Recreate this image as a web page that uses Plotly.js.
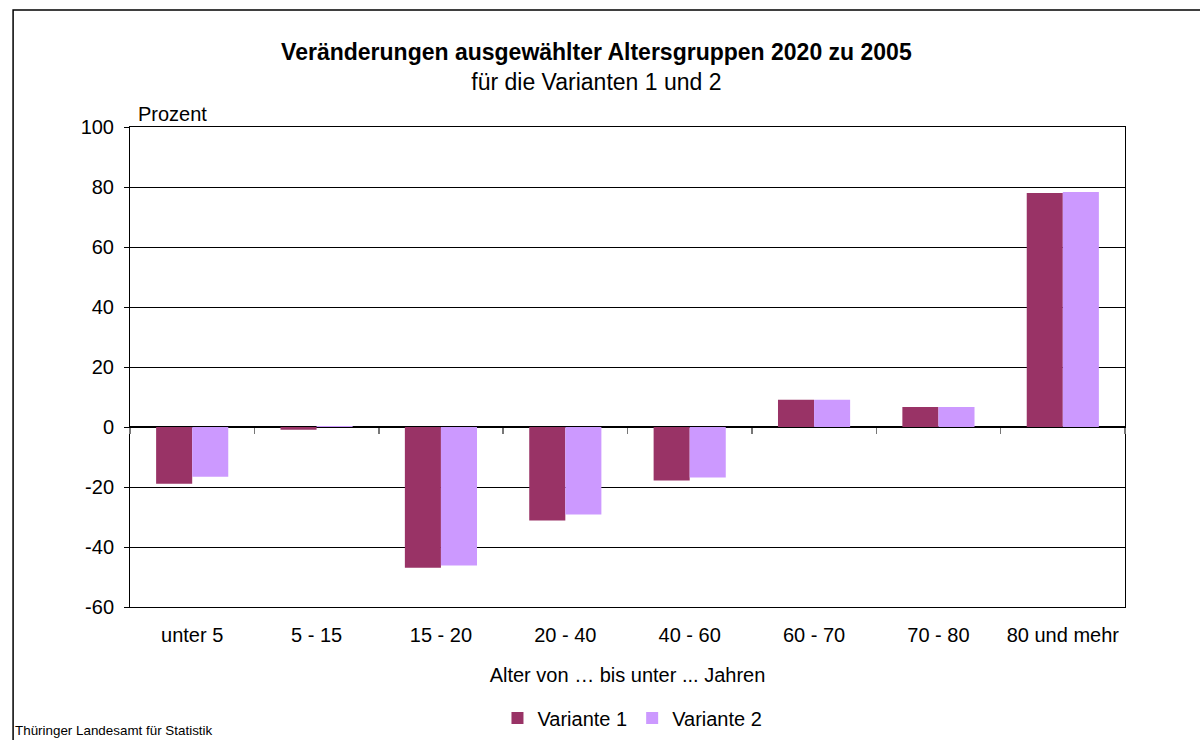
<!DOCTYPE html>
<html>
<head>
<meta charset="utf-8">
<script src="https://cdn.plot.ly/plotly-3.0.1.min.js"></script>
<style>html,body{margin:0;padding:0;background:#fff;}#chart{width:1200px;height:740px;}</style>
</head>
<body>
<div id="chart"></div>
<script>
const categories = ["unter 5", "5 - 15", "15 - 20", "20 - 40", "40 - 60", "60 - 70", "70 - 80", "80 und mehr"];
const variante1 = [-18.9, -0.9, -46.9, -31.2, -17.8, 9.1, 6.7, 78.0];
const variante2 = [-16.6, 0.3, -46.2, -29.2, -16.8, 9.1, 6.7, 78.3];
const seriesNames = ["Variante 1", "Variante 2"];
const yTicks = [-60, -40, -20, 0, 20, 40, 60, 80, 100];

const font = "Liberation Sans, Arial, sans-serif";
const yMin = -60, yMax = 100;
const zeroFrac = (0 - yMin) / (yMax - yMin);

const traces = [
  {type: "bar", x: categories, y: variante1, name: seriesNames[0], marker: {color: "#993366"}, xaxis: "x", yaxis: "y"},
  {type: "bar", x: categories, y: variante2, name: seriesNames[1], marker: {color: "#CC99FF"}, xaxis: "x", yaxis: "y"},
  {type: "scatter", mode: "markers", x: categories, y: categories.map(() => null), xaxis: "x2", yaxis: "y",
   showlegend: false, hoverinfo: "skip", marker: {opacity: 0}}
];

const layout = {
  width: 1200, height: 740,
  margin: {l: 130, r: 75, t: 127, b: 133, autoexpand: false},
  paper_bgcolor: "#ffffff", plot_bgcolor: "#ffffff",
  font: {family: font, size: 20, color: "#000"},
  barmode: "group", bargap: 0.42, bargroupgap: 0,
  showlegend: true,
  legend: {orientation: "h", x: 0.505, xanchor: "center", y: -0.231, yanchor: "middle",
           font: {size: 20}, itemwidth: 30, traceorder: "normal", tracegroupgap: 0},
  xaxis: {
    type: "category", categoryarray: categories, range: [-0.5, 7.5],
    showgrid: false, zeroline: false, ticks: "", showline: true, mirror: true,
    linecolor: "#000", linewidth: 1, tickfont: {size: 20}, ticklabelstandoff: 10,
    title: {text: "Alter von … bis unter ... Jahren", font: {size: 20}, standoff: 22}
  },
  xaxis2: {
    type: "category", categoryarray: categories, range: [-0.5, 7.5],
    overlaying: "x", anchor: "free", position: zeroFrac,
    showticklabels: false, showgrid: false, zeroline: false,
    ticks: "outside", tickson: "boundaries", ticklen: 6, tickcolor: "#777", tickwidth: 1.5,
    showline: false
  },
  yaxis: {
    range: [yMin, yMax], tickvals: yTicks, ticktext: yTicks.map(String),
    showgrid: true, gridcolor: "#000", gridwidth: 1,
    zeroline: true, zerolinecolor: "#000", zerolinewidth: 1.5,
    showline: true, mirror: true, linecolor: "#000", linewidth: 1,
    ticks: "outside", ticklen: 5, tickcolor: "#000", tickfont: {size: 20}, ticklabelstandoff: 6
  },
  title: {text: "<b>Veränderungen ausgewählter Altersgruppen 2020 zu 2005</b><br><span style='font-weight:normal'>für die Varianten 1 und 2</span>",
          x: 0.497, xanchor: "center", y: 0.919, yanchor: "middle", font: {size: 23, family: font}},
  annotations: [
    {text: "Prozent", xref: "paper", yref: "paper", x: 0.0, y: 1.0, xanchor: "left", yanchor: "bottom",
     xshift: 6, yshift: 0, showarrow: false, font: {size: 20}},
    {text: "Thüringer Landesamt für Statistik", xref: "paper", yref: "paper", x: -0.1176, y: 0, xanchor: "left", yanchor: "middle",
     xshift: 0, yshift: -123, showarrow: false, font: {size: 13.4}}
  ],
  shapes: [
    {type: "rect", xref: "paper", yref: "paper", x0: -0.1175, x1: 1.2, y0: -0.5, y1: 1.2435,
     line: {color: "#000", width: 1.5}, fillcolor: "rgba(0,0,0,0)", layer: "below"}
  ]
};

Plotly.newPlot("chart", traces, layout, {displayModeBar: false, staticPlot: true});
</script>
</body>
</html>
